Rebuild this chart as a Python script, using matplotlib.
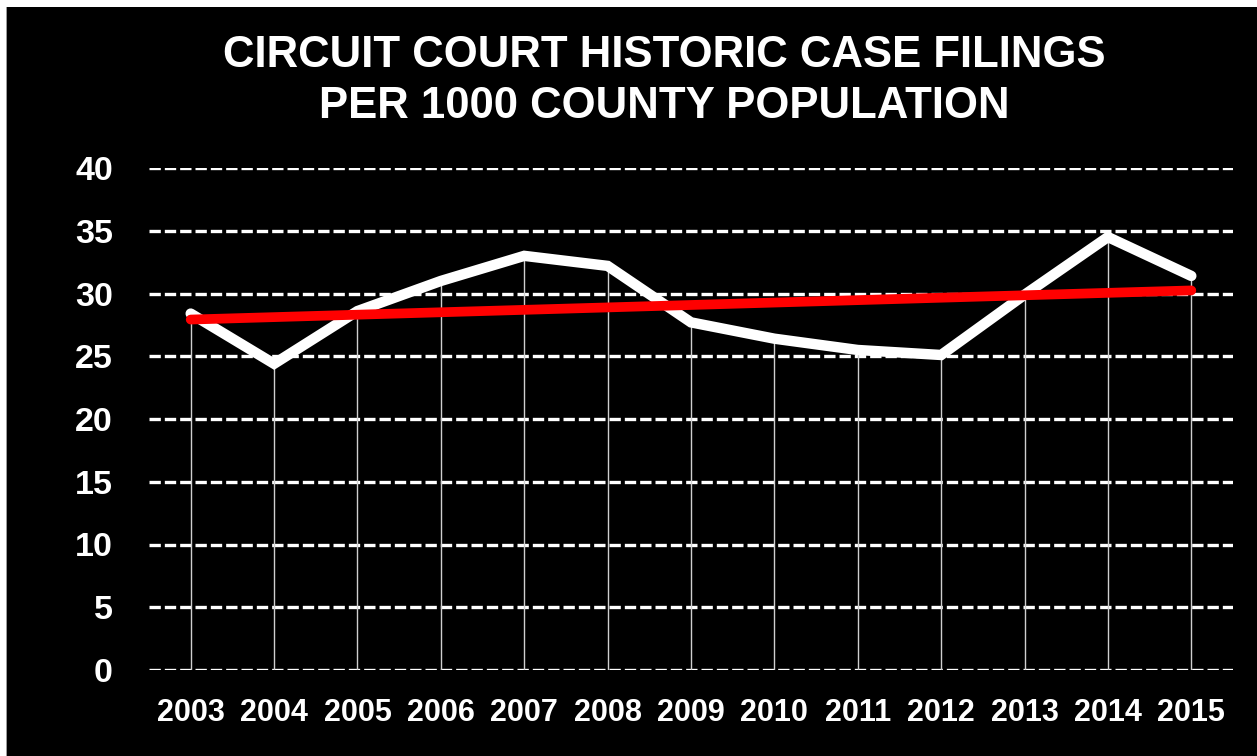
import matplotlib
matplotlib.use("Agg")
import matplotlib.pyplot as plt
import numpy as np
from matplotlib.patches import Rectangle

years = ["2003", "2004", "2005", "2006", "2007", "2008", "2009",
         "2010", "2011", "2012", "2013", "2014", "2015"]
filings = [28.4, 24.4, 28.6, 31.0, 33.0, 32.2, 27.7,
           26.4, 25.5, 25.1, 29.9, 34.5, 31.4]
yticks = [0, 5, 10, 15, 20, 25, 30, 35, 40]
title = "CIRCUIT COURT HISTORIC CASE FILINGS\nPER 1000 COUNTY POPULATION"

plt.rcParams['font.family'] = ['Liberation Sans', 'DejaVu Sans']

W, H = 1257, 756
fig = plt.figure(figsize=(W / 100, H / 100), dpi=100, facecolor="black")

# thin white margin top/left with grey edge
fig.patches.append(Rectangle((0, 1 - 7 / H), 1, 7 / H,
                             transform=fig.transFigure, facecolor="white",
                             edgecolor="none", zorder=-10))
fig.patches.append(Rectangle((0, 0), 7 / W, 1,
                             transform=fig.transFigure, facecolor="white",
                             edgecolor="none", zorder=-10))
fig.patches.append(Rectangle((6 / W, 0), 1.2 / W, 1 - 7 / H,
                             transform=fig.transFigure, facecolor="#9a9a9a",
                             edgecolor="none", zorder=-9))

ax = fig.add_axes([149 / W, 1 - 670 / H, (1233 - 149) / W, (670 - 168) / H])
ax.set_facecolor("none")

x = np.arange(len(years))

# dashed horizontal gridlines
for v in yticks:
    ax.axhline(v, color="white", lw=2.4, dashes=(3.4, 1.2), zorder=1)

# drop lines
ax.vlines(x, 0, filings, colors="#cfcfcf", lw=1.0, zorder=2)

ax.plot(x, filings, color="white", lw=7.5, solid_capstyle="round",
        solid_joinstyle="miter", zorder=3)

# linear trendline
coef = np.polyfit(x, filings, 1)
trend = np.polyval(coef, x)
ax.plot(x, trend, color="#ff0000", lw=7.0, solid_capstyle="round", zorder=4)

ax.set_xlim(-0.5, len(years) - 0.5)
ax.set_ylim(0, 40)
ax.set_yticks(yticks)
ax.set_yticklabels([str(v) for v in yticks], color="white",
                   fontsize=24.5, fontweight="bold")
ax.set_xticks(x)
ax.set_xticklabels(years, color="white", fontsize=22, fontweight="bold")
ax.tick_params(axis="both", length=0)
ax.tick_params(axis="y", pad=26)
ax.tick_params(axis="x", pad=20.5)
for s in ax.spines.values():
    s.set_visible(False)

fig.text(664 / W, 1 - 81 / H, title, color="white", fontsize=31.5,
         fontweight="bold", ha="center", va="center", linespacing=1.32)

fig.savefig("out.png", dpi=100, facecolor="black")
